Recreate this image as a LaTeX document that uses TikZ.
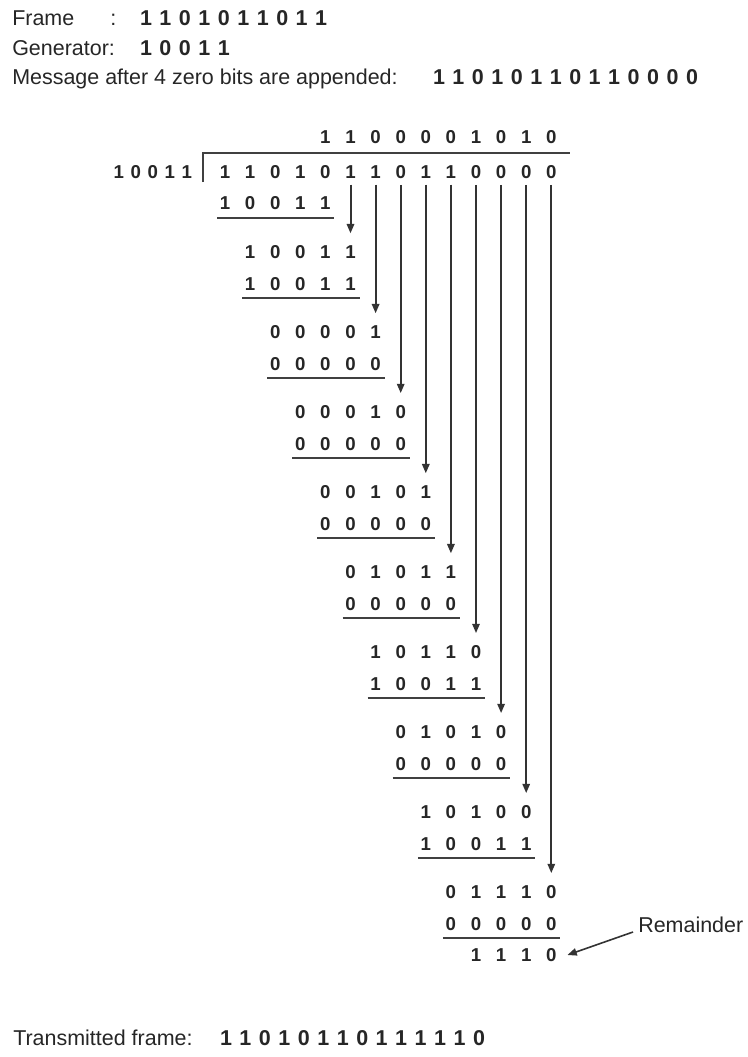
\documentclass[tikz,border=0pt]{standalone}
\usepackage{fontspec}
\setmainfont{Liberation Sans}
\usetikzlibrary{arrows.meta}
\newlength{\bitpitch}\setlength{\bitpitch}{14.6pt}
\def\spacedbits#1{\ifx#1\relax\else\makebox[\bitpitch]{#1}\expandafter\spacedbits\fi}
\newcommand{\bitrow}[4]{%
  \edef\rowlist{#4}%
  \foreach \bv [count=\i from 0] in \rowlist
    \node[bit] (#1-\i) at ({225+25.1*(#2+\i)},#3) {\bv};}

\begin{document}
\begin{tikzpicture}[x=0.75pt,y=-0.75pt,
  txt/.style={font=\fontsize{16.1}{18}\selectfont,inner sep=0pt,text=black!85},
  bit/.style={font=\fontsize{14}{16}\selectfont\bfseries,inner sep=0pt,text=black!85},
  uline/.style={line width=1.4pt,black!75},
  arr/.style={-{Triangle[length=7pt,width=5.5pt]},line width=1.5pt,black!80}]
\useasboundingbox (0,0) rectangle (747,1057);
% Header lines
\node[txt,anchor=base west] (frame-lbl) at (12,25.5) {Frame};
\node[txt,anchor=base west] (frame-col) at (110,25.5) {:};
\node[txt,anchor=base west] (frame-bits) at (136,25.5) {\bfseries\spacedbits1101011011\relax};
\node[txt,anchor=base west] (gen-lbl) at (12,55.5) {Generator:};
\node[txt,anchor=base west] (gen-bits) at (136,55.5) {\bfseries\spacedbits10011\relax};
\node[txt,anchor=base west] (msg-lbl) at (12,84.5) {Message after 4 zero bits are appended:};
\node[txt,anchor=base west] (msg-bits) at (429,84.5) {\bfseries\spacedbits11010110110000\relax};

% Quotient, divisor and dividend
\bitrow{q}{4}{137}{1,1,0,0,0,0,1,0,1,0}
\node[bit,anchor=base west] (divisor) at (110,178.8) {\setlength{\bitpitch}{12.75pt}\spacedbits10011\relax};
\draw[uline] (203,182) -- (203,153) -- (570,153);
\bitrow{dv}{0}{172}{1,1,0,1,0,1,1,0,1,1,0,0,0,0}
\bitrow{s0}{0}{203}{1,0,0,1,1}
\draw[uline] (217,218) -- (334,218);

% One subtraction per quotient bit, each pulls the next dividend bit down
\foreach \k/\ra/\rb in {1/{1,0,0,1,1}/{1,0,0,1,1}, 2/{0,0,0,0,1}/{0,0,0,0,0},
    3/{0,0,0,1,0}/{0,0,0,0,0}, 4/{0,0,1,0,1}/{0,0,0,0,0}, 5/{0,1,0,1,1}/{0,0,0,0,0},
    6/{1,0,1,1,0}/{1,0,0,1,1}, 7/{0,1,0,1,0}/{0,0,0,0,0}, 8/{1,0,1,0,0}/{1,0,0,1,1},
    9/{0,1,1,1,0}/{0,0,0,0,0}} {
  \pgfmathsetmacro\ya{252+80*(\k-1)}
  \pgfmathsetmacro\yb{\ya+32}
  \pgfmathsetmacro\yu{\ya+46}
  \pgfmathtruncatemacro\c{4+\k}
  \bitrow{a\k}{\k}{\ya}{\ra}
  \bitrow{b\k}{\k}{\yb}{\rb}
  \draw[uline] ({225+25.1*\k-8},\yu) -- ({225+25.1*(\k+4)+9},\yu);
  \draw[arr,shorten <=4.5pt,shorten >=9pt] (dv-\c.south) -- (a\k-4.north);
}

% Remainder
\bitrow{rem}{10}{955}{1,1,1,0}
\node[txt,anchor=west] (rem-lbl) at (638,925) {Remainder};
\draw[arr,line width=1.2pt] ([xshift=-3.75pt,yshift=-5.25pt]rem-lbl.west) -- ([xshift=8pt]rem-3.east);

% Result
\node[txt,anchor=base west] (tx-lbl) at (13,1045.5) {Transmitted frame:};
\node[txt,anchor=base west] (tx-bits) at (216,1045.5) {\bfseries\spacedbits11010110111110\relax};
\end{tikzpicture}
\end{document}
